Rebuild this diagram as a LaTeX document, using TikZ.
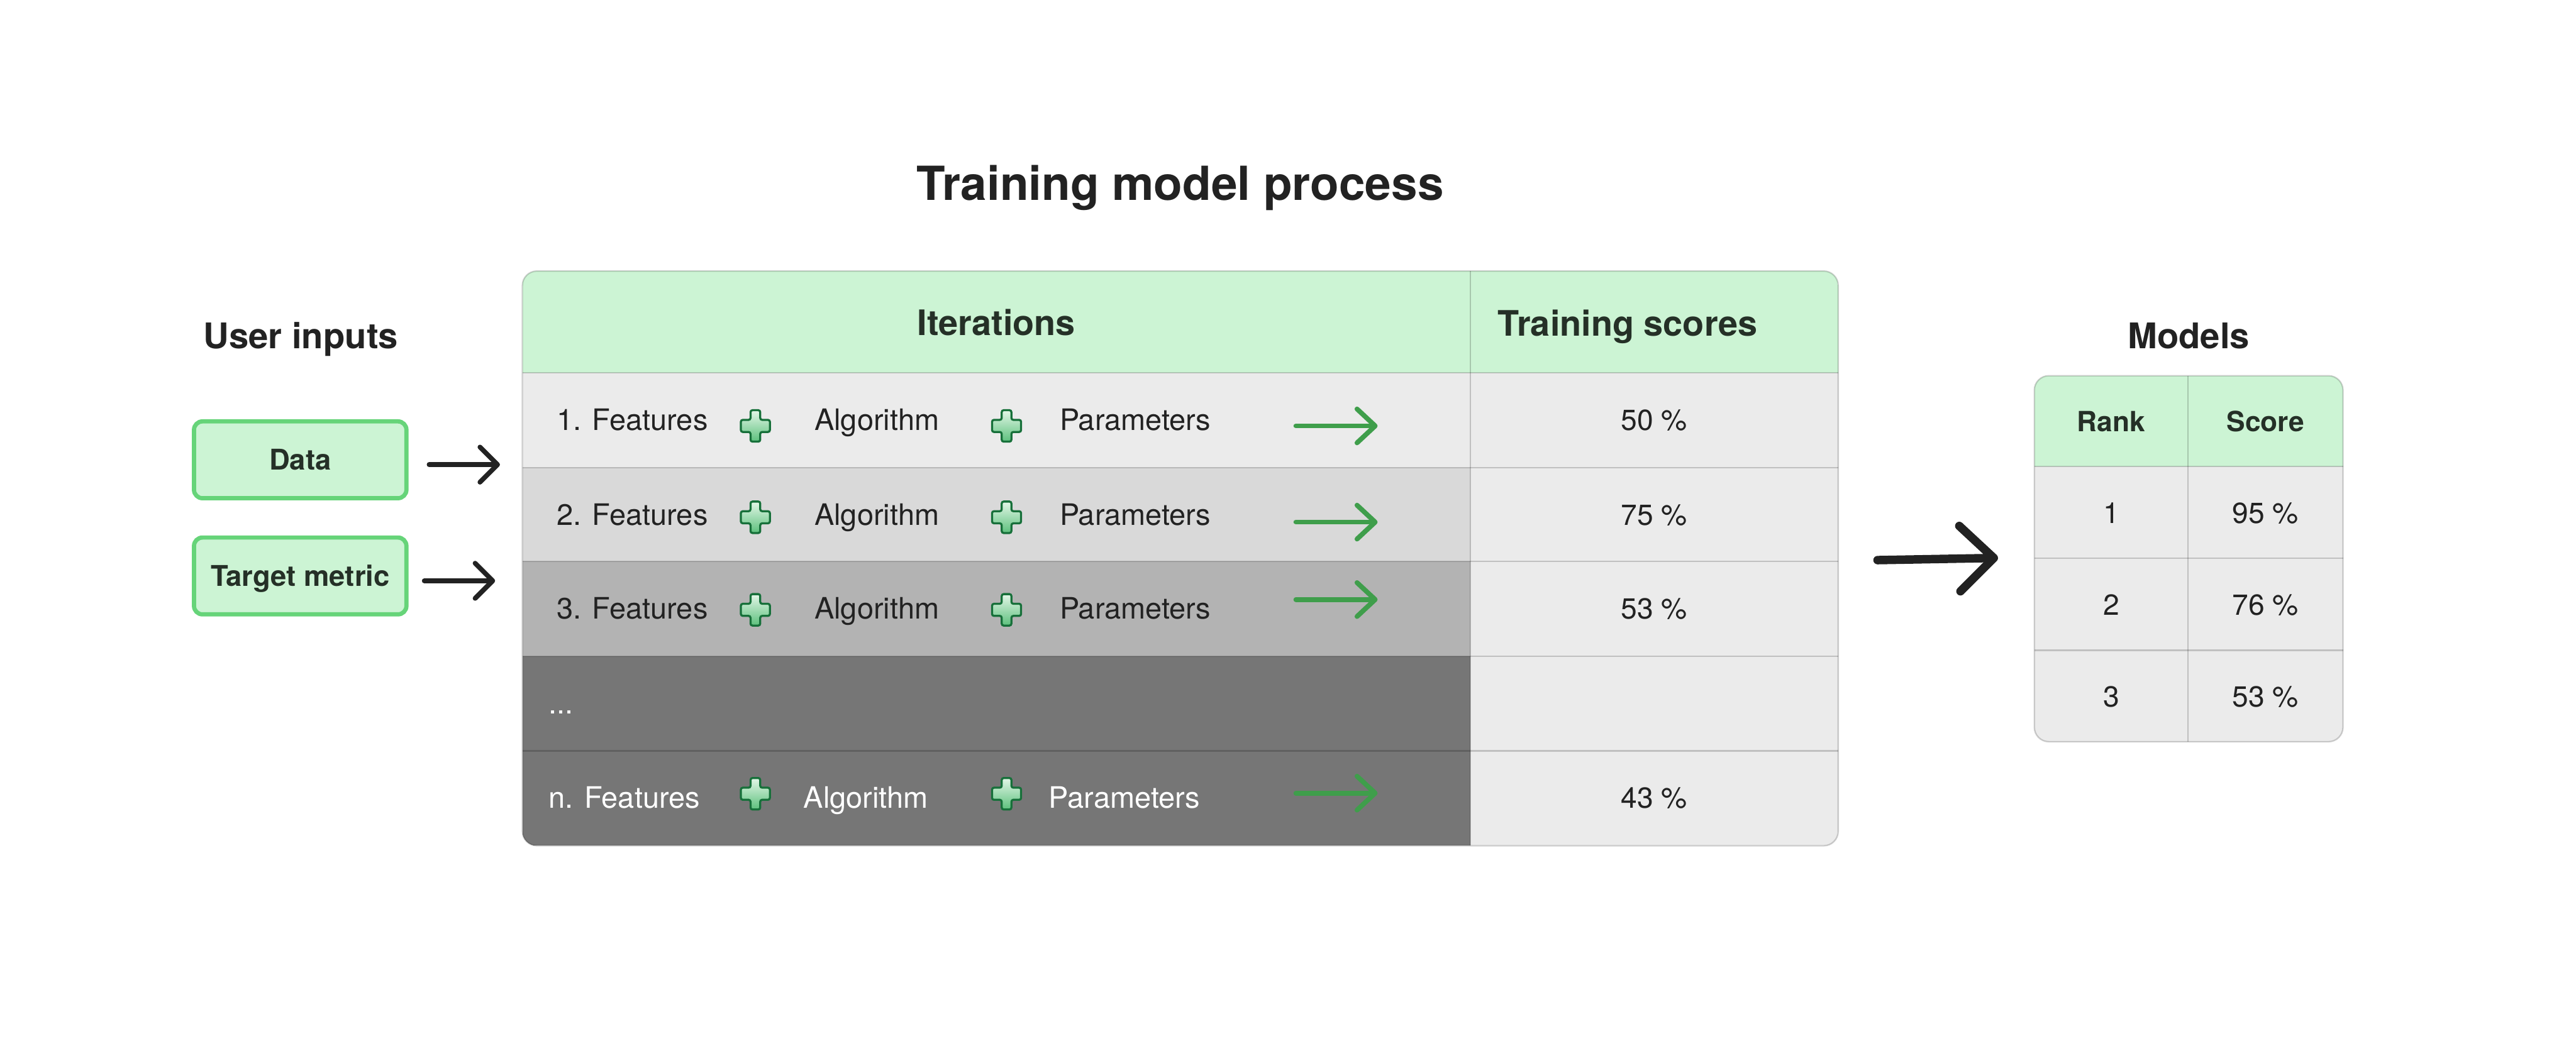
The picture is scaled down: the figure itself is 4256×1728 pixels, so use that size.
\documentclass[tikz,border=0pt]{standalone}
\usepackage{fontspec}
\setmainfont{TeX Gyre Heros}
\usetikzlibrary{arrows.meta}

\definecolor{hdrgreen}{HTML}{CCF4D4}
\definecolor{boxline}{HTML}{66D479}
\definecolor{rowA}{HTML}{EBEBEB}
\definecolor{rowB}{HTML}{D9D9D9}
\definecolor{rowC}{HTML}{B3B3B3}
\definecolor{rowD}{HTML}{767676}
\definecolor{txtdark}{HTML}{222222}
\definecolor{hdrtxt}{HTML}{253027}
\definecolor{arrowgreen}{HTML}{3F9E4B}
\definecolor{plusdark}{HTML}{17703A}
\definecolor{pluslight}{HTML}{E4F7E8}
\definecolor{plusmid}{HTML}{5CC07C}

\begin{document}
\begin{tikzpicture}[x=0.25pt, y=-0.25pt,
  heading/.style={font=\fontsize{14.6}{17}\selectfont\bfseries, text=txtdark, inner sep=0pt, anchor=base},
  colhead/.style={font=\fontsize{14.5}{17}\selectfont\bfseries, text=hdrtxt, inner sep=0pt, anchor=base},
  item/.style={font=\fontsize{12.2}{14}\selectfont, inner sep=0pt, anchor=base west},
  score/.style={font=\fontsize{12}{14}\selectfont, text=txtdark, inner sep=0pt, anchor=base},
  inbox/.style={draw=boxline, fill=hdrgreen, line width=1.75pt, rounded corners=3.5pt,
    minimum width=87.75pt, minimum height=31.75pt, text height=8.5pt, text depth=0pt,
    font=\fontsize{11.8}{13}\selectfont\bfseries, text=hdrtxt},
  grid/.style={draw=black, draw opacity=0.18, line width=0.6pt},
  inarrow/.style={draw=txtdark, line width=2pt, line cap=round,
    -{Straight Barb[length=7.25pt, width=14.5pt, round]}},
  bigarrow/.style={draw=txtdark, line width=3.5pt, line cap=round,
    -{Straight Barb[length=14pt, width=27pt, round]}},
  garrow/.style={draw=arrowgreen, line width=2pt, line cap=round,
    -{Straight Barb[length=7.5pt, width=14pt, round]}},
  plussign/.pic={
    \draw[draw=plusdark, line width=0.85pt, rounded corners=0.8pt, top color=pluslight, bottom color=plusmid]
      (-8,-26) -- (8,-26) -- (8,-10) -- (24,-10) -- (24,10) -- (8,10) -- (8,26)
      -- (-8,26) -- (-8,10) -- (-24,10) -- (-24,-10) -- (-8,-10) -- cycle;
  }]
 \useasboundingbox (0,0) rectangle (4256,1728);

 % titles
 \node[heading, font=\fontsize{19.4}{22}\selectfont\bfseries] (ttl) at (1950,331) {Training model process};
 \node[heading] (usr) at (497,576) {User inputs};
 \node[heading] (mdh) at (3616,576) {Models};

 % user inputs
 \node[inbox] (data) at (496,760) {Data};
 \node[inbox] (tgt) at (496,952) {Target metric};

 % iterations table
 \begin{scope}
  \clip[rounded corners=6pt] (863,448) rectangle (3037,1398);
  \fill[hdrgreen] (863,448) rectangle (3037,616);
  \fill[rowA] (863,616) rectangle (2429,773);
  \fill[rowB] (863,773) rectangle (2429,928);
  \fill[rowC] (863,928) rectangle (2429,1085);
  \fill[rowD] (863,1085) rectangle (2429,1398);
  \fill[rowA] (2429,616) rectangle (3037,1398);
 \end{scope}
 \foreach \y in {616,773,928,1085,1241}
  \draw[grid] (863,\y) -- (3037,\y);
 \draw[grid] (2429,448) -- (2429,1398);
 \node[grid, rounded corners=6pt, minimum width=543.5pt, minimum height=237.5pt,
   inner sep=0pt, outer sep=0pt] (tbl) at (1950,923) {};

 \node[colhead] (itr) at (1646,554) {Iterations};
 \node[colhead, anchor=base west] (tsc) at (2474,555) {Training scores};

 \foreach \k/\yc/\py/\ay/\xa/\xb/\xc/\tc/\sv [count=\i] in
   {1/694/704/704/919/1345/1750/txtdark/50,
    2/851/855/863/919/1345/1750/txtdark/75,
    3/1006/1008/991/919/1345/1750/txtdark/53,
    n/1319/1312/1311/906/1327/1732/white/43}
 {
  \node[item, text=\tc] (f\i) at (\xa,\yc+17) {\k. Features};
  \pic at (1248,\py) {plussign};
  \node[item, text=\tc] (a\i) at (\xb,\yc+17) {Algorithm};
  \pic at (1663,\py) {plussign};
  \node[item, text=\tc] (p\i) at (\xc,\yc+17) {Parameters};
  \coordinate (g\i) at (2141,\ay);
  \coordinate (h\i) at (2276,\ay);
  \draw[garrow] (g\i) -- (h\i);
  \node[score] (s\i) at (2733,\yc+17) {\sv~\%};
 }
 \node[item, text=white] (dots) at (906,1180) {...};

 % models table
 \begin{scope}
  \clip[rounded corners=6pt] (3361,621) rectangle (3871,1226);
  \fill[hdrgreen] (3361,621) rectangle (3871,771);
  \fill[rowA] (3361,771) rectangle (3871,1226);
 \end{scope}
 \foreach \y in {771,923,1075}
  \draw[grid] (3361,\y) -- (3871,\y);
 \draw[grid] (3615,621) -- (3615,1226);
 \node[grid, rounded corners=6pt, minimum width=127.5pt, minimum height=151.25pt,
   inner sep=0pt, outer sep=0pt] (mdl) at (3616,923.5) {};

 \node[colhead, font=\fontsize{11.5}{13}\selectfont\bfseries] (rnk) at (3488,713) {Rank};
 \node[colhead, font=\fontsize{11.5}{13}\selectfont\bfseries] (scr) at (3743,713) {Score};
 \foreach \r/\v/\y in {1/95/865, 2/76/1017, 3/53/1168}
 {
  \node[score] (r\r) at (3488,\y) {\r};
  \node[score] (v\r) at (3743,\y) {\v~\%};
 }

 % connectors
 \draw[inarrow, shorten <=8.5pt, shorten >=9.25pt] ([yshift=-2pt]data.east) -- ([yshift=-2pt]data.east -| tbl.west);
 \draw[inarrow, shorten <=6.5pt, shorten >=11.25pt] ([yshift=-2pt]tgt.east) -- ([yshift=-2pt]tgt.east -| tbl.west);
 \draw[bigarrow, shorten <=16.25pt, shorten >=15pt] ([yshift=-1pt]tbl.east) -- ([yshift=0.6pt]mdl.west);
\end{tikzpicture}
\end{document}
